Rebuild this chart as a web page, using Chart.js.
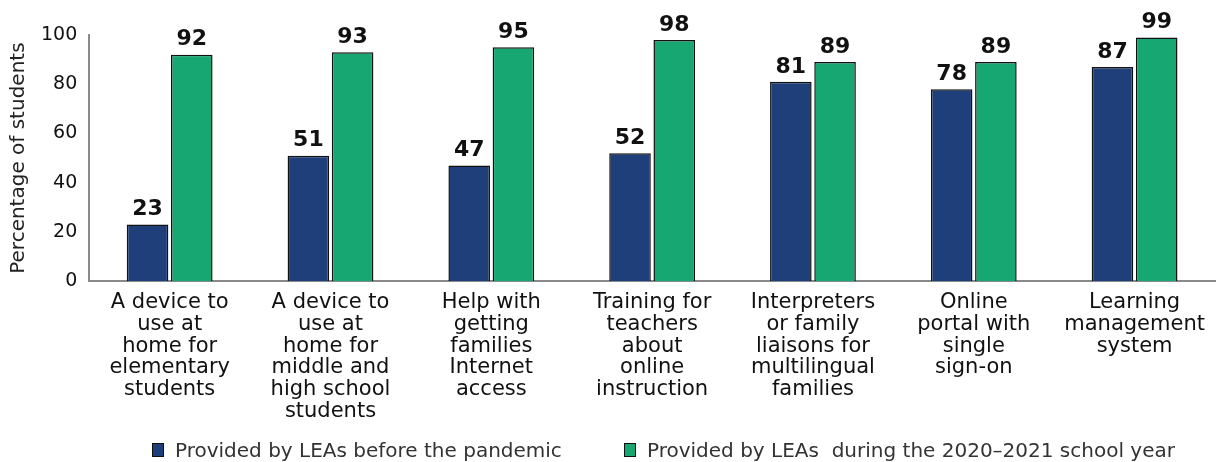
<!DOCTYPE html>
<html>
<head>
<meta charset="utf-8">
<script src="https://cdn.jsdelivr.net/npm/chart.js@4.4.0/dist/chart.umd.min.js"></script>
<style>
    body { margin: 0; background: #fff; }
    #wrap { position: relative; width: 1220px; height: 462px; }
    .item {
        position: absolute; top: 438px; display: flex; align-items: center; white-space: pre;
        font-family: "DejaVu Sans", sans-serif; font-size: 20px; color: #333;
    }
    .box { width: 10px; height: 12px; border: 1px solid #111; margin-right: 11px; }
</style>
</head>
<body>
<div id="wrap">
    <canvas id="grafica" width="1220" height="462"></canvas>
</div>
<script>
// datos del grafico
const categorias = [
    ["A device to", "use at", "home for", "elementary", "students"],
    ["A device to", "use at", "home for", "middle and", "high school", "students"],
    ["Help with", "getting", "families", "Internet", "access"],
    ["Training for", "teachers", "about", "online", "instruction"],
    ["Interpreters", "or family", "liaisons for", "multilingual", "families"],
    ["Online", "portal with", "single", "sign-on"],
    ["Learning", "management", "system"]
];
const antes = [23, 51, 47, 52, 81, 78, 87];
const durante = [92, 93, 95, 98, 89, 89, 99];
const nombres = ["Provided by LEAs before the pandemic", "Provided by LEAs  during the 2020\u20132021 school year"];
const colores = ["#1f3f7a", "#17a773"];
const posLeyenda = [152, 624];

const fuente = "DejaVu Sans";

// etiquetas de valores encima de las barras
const etiquetasValor = {
    id: "etiquetasValor",
    afterDatasetsDraw(chart) {
        const ctx = chart.ctx;
        ctx.save();
        ctx.font = "bold 22px " + fuente;
        ctx.fillStyle = "#111";
        ctx.textAlign = "center";
        ctx.textBaseline = "bottom";
        chart.data.datasets.forEach((ds, i) => {
            chart.getDatasetMeta(i).data.forEach((bar, j) => {
                ctx.fillText(ds.data[j], bar.x, bar.y - 4);
            });
        });
        ctx.restore();
    }
};

new Chart(document.getElementById("grafica"), {
    type: "bar",
    data: {
        labels: categorias,
        datasets: [
            {
                label: nombres[0],
                data: antes,
                backgroundColor: colores[0],
                borderColor: "#111",
                borderWidth: 1.5,
                categoryPercentage: 0.55,
                barPercentage: 0.94
            },
            {
                label: nombres[1],
                data: durante,
                backgroundColor: colores[1],
                borderColor: "#111",
                borderWidth: 1.5,
                categoryPercentage: 0.55,
                barPercentage: 0.94
            }
        ]
    },
    options: {
        responsive: false,
        animation: false,
        layout: { padding: { top: 35, right: 5, bottom: 37, left: 9 } },
        plugins: {
            legend: { display: false },
            tooltip: { enabled: false }
        },
        scales: {
            x: {
                grid: { display: false },
                border: { color: "#8a8a8a", width: 2 },
                ticks: {
                    color: "#111",
                    font: { family: fuente, size: 21, lineHeight: 1.03 },
                    maxRotation: 0,
                    autoSkip: false,
                    padding: 3
                }
            },
            y: {
                min: 0,
                max: 100,
                grid: { display: false, drawTicks: false },
                border: { color: "#8a8a8a", width: 2 },
                ticks: {
                    stepSize: 20,
                    color: "#111",
                    font: { family: fuente, size: 19 },
                    padding: 12
                },
                title: {
                    display: true,
                    text: "Percentage of students",
                    color: "#222",
                    font: { family: fuente, size: 20, lineHeight: 1 },
                    padding: { top: 0, bottom: 0 }
                }
            }
        }
    },
    plugins: [etiquetasValor]
});

// leyenda
const wrap = document.getElementById("wrap");
nombres.forEach((n, i) => {
    const item = document.createElement("div");
    item.className = "item";
    item.style.left = posLeyenda[i] + "px";
    const box = document.createElement("span");
    box.className = "box";
    box.style.background = colores[i];
    item.appendChild(box);
    item.appendChild(document.createTextNode(n));
    wrap.appendChild(item);
});
</script>
</body>
</html>
